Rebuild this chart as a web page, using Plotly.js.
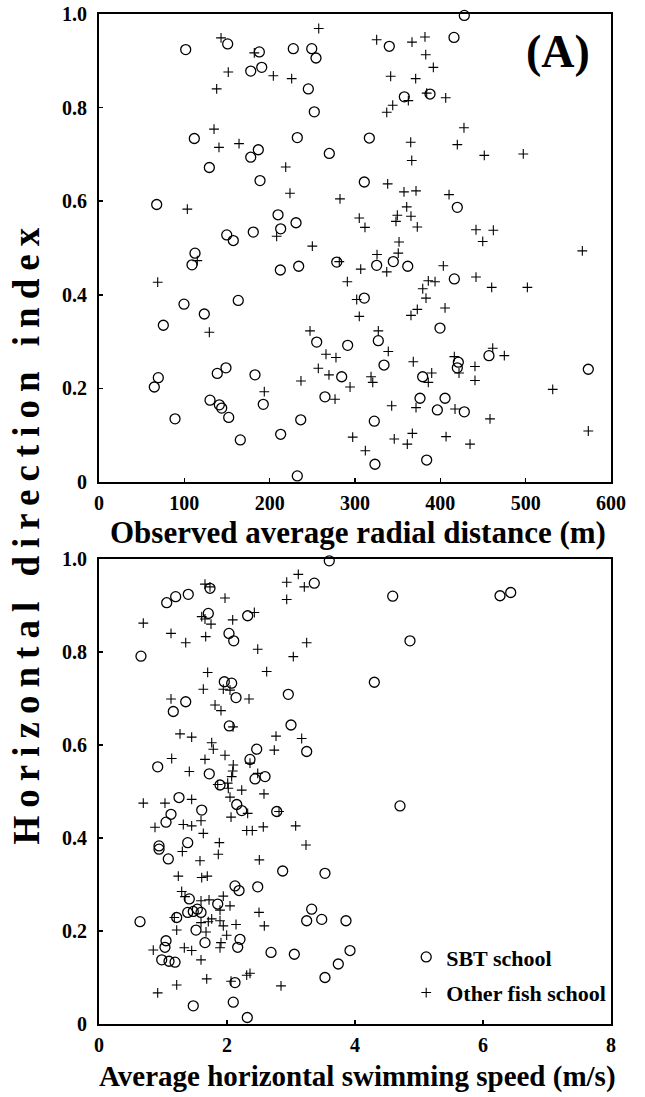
<!DOCTYPE html>
<html><head><meta charset="utf-8">
<script src="https://cdn.plot.ly/plotly-3.0.1.min.js"></script>
<style>html,body{margin:0;padding:0;background:#fff}</style>
</head><body><div id="chart" style="width:645px;height:1097px"></div>
<script>
// Panel A: observed average radial distance (m) vs horizontal direction index
const distSBT = [150.8,101.6,187.9,177.8,190.7,111.7,186.7,177.8,129.3,340.2,227.7,249.3,254.3,245.3,357.8,387.9,252.3,232.4,316.8,269.9,428.1,416.0,188.7,67.6,149.7,157.4,180.8,112.5,109.0,99.6,163.2,123.4,75.4,310.9,209.8,212.9,230.9,212.5,234.0,278.6,325.4,344.9,361.8,310.9,419.9,416.4,399.6,64.8,69.5,138.6,148.8,182.8,192.5,130.1,141.0,143.8,152.0,89.1,165.6,255.1,291.4,327.3,284.4,334.0,379.3,264.8,376.2,236.4,322.6,212.9,323.4,384.0,232.4,421.1,419.9,457.0,573.4,405.5,396.5,428.1];
const dirSBT_A = [0.936,0.924,0.919,0.878,0.886,0.734,0.710,0.694,0.672,0.931,0.926,0.926,0.906,0.840,0.823,0.829,0.791,0.736,0.735,0.702,0.997,0.950,0.644,0.593,0.528,0.516,0.534,0.489,0.464,0.380,0.388,0.359,0.335,0.641,0.571,0.541,0.554,0.453,0.461,0.470,0.463,0.471,0.461,0.393,0.587,0.434,0.329,0.203,0.223,0.232,0.244,0.229,0.166,0.175,0.165,0.158,0.138,0.135,0.090,0.299,0.292,0.302,0.225,0.250,0.225,0.182,0.179,0.133,0.130,0.102,0.038,0.047,0.013,0.256,0.244,0.270,0.241,0.179,0.154,0.150];
const distOther = [143.0,182.0,151.5,137.9,134.8,140.6,164.1,257.5,325.4,366.8,382.0,382.9,204.3,225.8,341.8,371.1,362.5,384.0,344.2,337.2,365.3,366.5,218.8,391.8,406.3,427.7,419.9,451.5,497.2,103.5,115.2,68.8,129.3,338.3,357.4,371.5,223.8,282.4,360.6,305.0,311.7,349.6,348.0,365.6,373.0,208.2,250.0,351.6,325.8,350.7,281.6,306.7,337.2,291.0,385.9,379.4,383.2,302.0,373.0,365.6,305.0,247.3,327.3,410.2,441.8,462.1,449.7,566.4,403.5,393.8,441.8,460.2,502.0,405.5,339.0,266.0,277.7,257.0,269.5,236.7,294.2,318.8,320.8,368.3,385.9,193.7,276.6,343.0,371.5,297.3,346.0,367.2,361.3,312.1,416.4,421.9,461.4,475.0,440.6,440.6,389.9,531.7,417.2,458.2,573.4,406.7,434.8];
const dirOther_A = [0.949,0.917,0.876,0.840,0.754,0.715,0.723,0.969,0.945,0.940,0.951,0.913,0.868,0.862,0.867,0.862,0.815,0.831,0.805,0.790,0.726,0.687,0.673,0.886,0.821,0.757,0.721,0.698,0.701,0.583,0.473,0.427,0.320,0.637,0.620,0.622,0.617,0.605,0.588,0.564,0.544,0.570,0.557,0.568,0.545,0.525,0.504,0.513,0.486,0.489,0.471,0.455,0.449,0.428,0.430,0.413,0.393,0.390,0.369,0.356,0.354,0.323,0.323,0.614,0.539,0.538,0.514,0.494,0.462,0.428,0.438,0.416,0.416,0.372,0.279,0.273,0.266,0.243,0.229,0.216,0.203,0.225,0.213,0.257,0.213,0.193,0.177,0.163,0.159,0.096,0.092,0.104,0.081,0.067,0.268,0.233,0.286,0.270,0.247,0.217,0.233,0.198,0.156,0.135,0.109,0.097,0.081];

// Panel B: average horizontal swimming speed (m/s) vs horizontal direction index
const speedSBT = [3.364,1.734,1.058,1.198,1.395,1.708,2.323,2.031,2.105,0.656,1.958,2.073,2.141,2.958,1.355,1.161,2.036,3.000,3.245,2.464,2.359,0.917,1.723,2.438,2.594,1.891,1.250,2.152,1.125,1.047,1.605,2.230,2.777,0.938,0.938,1.083,1.386,2.870,3.531,2.125,2.188,2.480,1.411,1.855,1.386,1.473,1.536,1.594,3.323,0.641,1.214,3.245,3.480,1.516,1.047,1.031,1.656,2.203,2.167,2.688,3.052,0.980,1.094,1.188,2.125,3.531,1.473,2.098,2.317,3.598,4.589,6.266,6.433,4.859,4.302,4.703,3.859,3.922,3.739];
const dirSBT_B = [0.948,0.937,0.906,0.919,0.924,0.883,0.878,0.840,0.824,0.791,0.736,0.733,0.702,0.709,0.693,0.672,0.641,0.643,0.586,0.591,0.569,0.553,0.538,0.527,0.532,0.514,0.487,0.472,0.451,0.434,0.460,0.459,0.457,0.383,0.376,0.355,0.390,0.329,0.324,0.297,0.287,0.295,0.269,0.258,0.240,0.242,0.247,0.240,0.247,0.220,0.229,0.222,0.225,0.202,0.179,0.165,0.175,0.182,0.165,0.154,0.150,0.138,0.135,0.133,0.089,0.100,0.039,0.047,0.014,0.996,0.920,0.921,0.928,0.824,0.735,0.469,0.222,0.158,0.129];
const speedOther = [3.114,2.933,3.208,1.656,1.734,1.969,2.933,1.605,1.656,1.750,2.089,2.427,0.692,1.125,1.667,1.355,2.480,3.245,3.036,1.698,2.620,1.630,1.942,2.047,2.344,1.125,1.813,1.906,2.094,1.266,1.448,2.766,3.167,1.761,1.786,2.739,1.136,1.656,1.969,2.359,2.098,2.089,2.073,1.411,2.480,1.855,2.011,2.020,2.230,2.578,1.448,0.692,1.031,2.047,0.875,1.317,1.448,1.594,1.630,2.323,2.063,2.813,2.308,2.395,2.567,3.073,3.234,1.302,1.880,1.864,1.578,2.505,1.239,1.605,1.692,1.292,1.344,1.594,1.719,1.942,2.047,1.891,2.500,1.177,1.761,1.708,1.594,1.891,1.942,2.141,2.583,1.214,1.672,1.995,0.848,1.333,1.448,1.906,1.891,1.594,1.683,2.063,2.308,2.359,1.214,0.917,2.844];
const dirOther_B = [0.967,0.950,0.940,0.946,0.940,0.916,0.913,0.876,0.871,0.860,0.869,0.885,0.862,0.840,0.833,0.820,0.806,0.820,0.790,0.756,0.758,0.720,0.720,0.718,0.699,0.699,0.686,0.674,0.639,0.624,0.617,0.619,0.614,0.605,0.591,0.589,0.571,0.569,0.578,0.561,0.557,0.544,0.532,0.543,0.539,0.515,0.518,0.507,0.503,0.495,0.483,0.475,0.475,0.488,0.423,0.429,0.426,0.437,0.410,0.453,0.445,0.457,0.416,0.416,0.424,0.426,0.385,0.371,0.390,0.365,0.351,0.353,0.318,0.315,0.318,0.285,0.274,0.265,0.267,0.275,0.254,0.245,0.240,0.229,0.226,0.220,0.218,0.222,0.211,0.214,0.211,0.202,0.198,0.191,0.159,0.164,0.158,0.175,0.164,0.138,0.097,0.092,0.105,0.109,0.084,0.067,0.082];

const dirTicks = [0, 0.2, 0.4, 0.6, 0.8, 1.0];
const dirTickText = ['0', '0.2', '0.4', '0.6', '0.8', '1.0'];
const distTicks = [0, 100, 200, 300, 400, 500, 600];
const speedTicks = [0, 2, 4, 6, 8];

const FONT = '"Liberation Serif", "Times New Roman", Times, serif';
const circ = {symbol: 'circle-open', size: 10, color: '#000', line: {width: 1.3, color: '#000'}};
const plus = {symbol: 'cross-thin-open', size: 7, color: '#000', line: {width: 1.1, color: '#000'}};

const traces = [
  {x: distSBT, y: dirSBT_A, xaxis: 'x', yaxis: 'y', mode: 'markers', marker: circ, showlegend: false, cliponaxis: false, name: 'SBT school'},
  {x: distOther, y: dirOther_A, xaxis: 'x', yaxis: 'y', mode: 'markers', marker: plus, showlegend: false, cliponaxis: false, name: 'Other fish school'},
  {x: speedSBT, y: dirSBT_B, xaxis: 'x2', yaxis: 'y2', mode: 'markers', marker: circ, cliponaxis: false, name: 'SBT school', legendgroup: 'a'},
  {x: speedOther, y: dirOther_B, xaxis: 'x2', yaxis: 'y2', mode: 'markers', marker: plus, cliponaxis: false, name: 'Other fish school', legendgroup: 'b'}
];

const axBase = {showline: true, linewidth: 2, linecolor: '#000', mirror: true, ticks: 'inside', ticklen: 4, tickwidth: 1.5, tickcolor: '#000', showgrid: false, zeroline: false, tickfont: {family: FONT, size: 20, color: '#000', weight: 'bold'}};

const layout = {
  width: 645, height: 1097,
  margin: {l: 99, r: 34, t: 14, b: 73},
  paper_bgcolor: '#fff', plot_bgcolor: '#fff',
  font: {family: FONT, color: '#000'},
  xaxis: Object.assign({}, axBase, {domain: [0, 1], anchor: 'y', range: [0, 600], tickvals: distTicks, ticklabelstandoff: 2}),
  yaxis: Object.assign({}, axBase, {domain: [0.5366, 1], anchor: 'x', range: [0, 1], tickvals: dirTicks, ticktext: dirTickText, ticklabelstandoff: 6}),
  xaxis2: Object.assign({}, axBase, {domain: [0, 1], anchor: 'y2', range: [0, 8], tickvals: speedTicks, ticklabelstandoff: 2}),
  yaxis2: Object.assign({}, axBase, {domain: [0, 0.4604], anchor: 'x2', range: [0, 1], tickvals: dirTicks, ticktext: dirTickText, ticklabelstandoff: 6}),
  showlegend: true,
  legend: {x: 0.6, y: 0.087, xanchor: 'left', yanchor: 'top', bgcolor: 'rgba(0,0,0,0)', tracegroupgap: 4, traceorder: 'grouped',
           font: {family: FONT, size: 22, color: '#000', weight: 'bold'}},
  annotations: [
    {text: '(A)', xref: 'paper', yref: 'paper', x: 0.896, y: 0.963, xanchor: 'center', yanchor: 'middle', showarrow: false, font: {family: FONT, size: 46, color: '#000', weight: 'bold'}},
    {text: '<span style="letter-spacing:8px">Horizontal direction index</span>', xref: 'paper', yref: 'paper', x: -0.142, y: 0.487, xanchor: 'center', yanchor: 'middle', textangle: -90, showarrow: false, font: {family: FONT, size: 37, color: '#000', weight: 'bold'}},
    {text: 'Observed average radial distance (m)', xref: 'paper', yref: 'paper', x: 0.505, y: 0.487, xanchor: 'center', yanchor: 'middle', showarrow: false, font: {family: FONT, size: 31, color: '#000', weight: 'bold'}},
    {text: 'Average horizontal swimming speed (m/s)', xref: 'paper', yref: 'paper', x: 0.505, y: -0.052, xanchor: 'center', yanchor: 'middle', showarrow: false, font: {family: FONT, size: 29, color: '#000', weight: 'bold'}}
  ]
};

Plotly.newPlot('chart', traces, layout, {displayModeBar: false, staticPlot: true});
</script>
</body></html>
